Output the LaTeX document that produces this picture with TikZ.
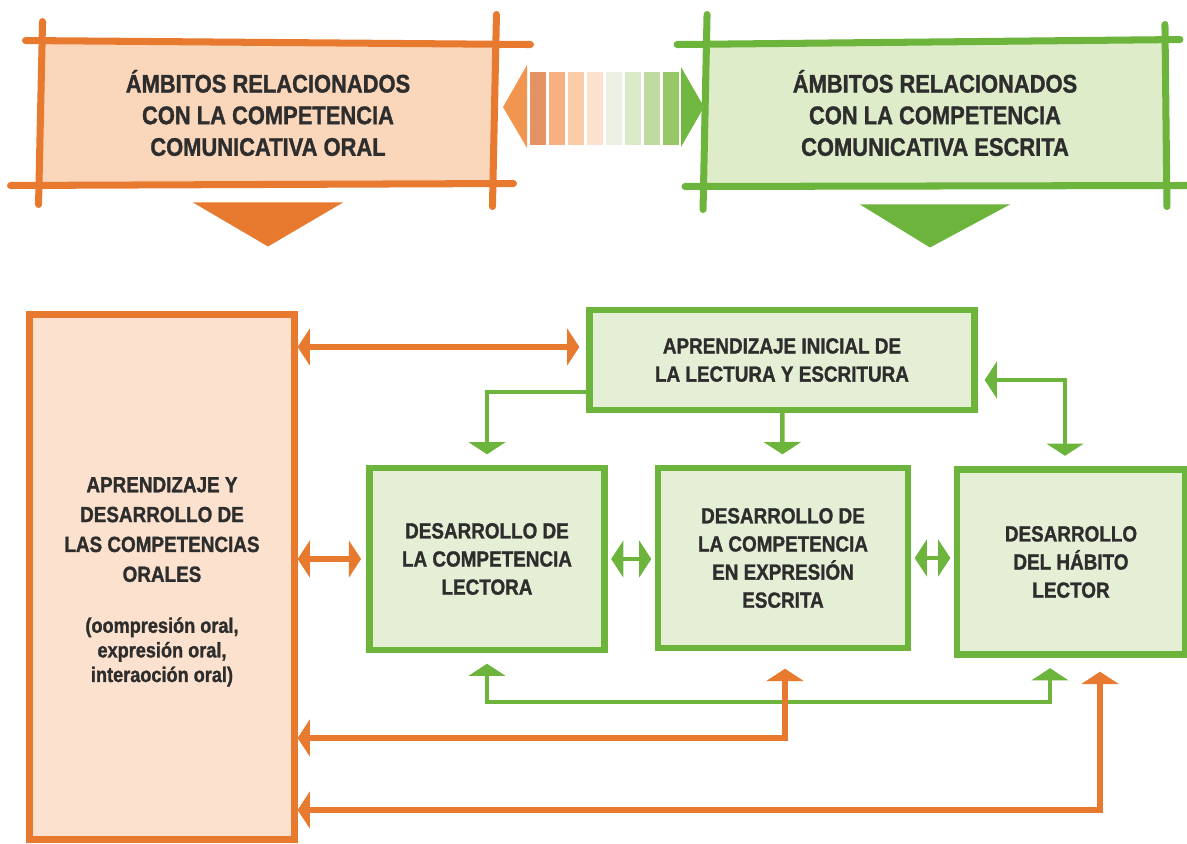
\documentclass[tikz,border=0pt]{standalone}
\usepackage{fontspec}
\setmainfont{Liberation Sans}[FakeStretch=0.86,BoldFeatures={FakeBold=1.2}]
\usetikzlibrary{arrows.meta,calc}

\definecolor{naranja}{RGB}{232,122,48}
\definecolor{naranjafondo}{RGB}{252,226,206}
\definecolor{naranjacab}{RGB}{250,214,186}
\definecolor{verde}{RGB}{108,180,60}
\definecolor{verdefondo}{RGB}{229,239,214}
\definecolor{verdecab}{RGB}{222,236,202}
\definecolor{texto}{RGB}{45,45,45}
% franjas de la flecha central
\definecolor{fr0}{RGB}{240,150,80}
\definecolor{fr1}{RGB}{228,148,100}
\definecolor{fr2}{RGB}{246,176,130}
\definecolor{fr3}{RGB}{250,204,170}
\definecolor{fr4}{RGB}{250,226,206}
\definecolor{fr5}{RGB}{236,241,230}
\definecolor{fr6}{RGB}{218,234,200}
\definecolor{fr7}{RGB}{192,219,162}
\definecolor{fr8}{RGB}{150,200,102}
\definecolor{fr9}{RGB}{112,184,64}

\tikzset{
  cab/.style={inner sep=0pt, outer sep=0pt, align=center, text=texto,
    font=\bfseries\fontsize{14.5}{18}\selectfont},
  cabN/.style={cab, fill=naranjacab},
  cabV/.style={cab, fill=verdecab},
  trazoN/.style={draw=naranja, line width=4pt, line cap=round},
  trazoV/.style={draw=verde, line width=4pt, line cap=round},
  caja/.style={inner sep=0pt, align=center, text=texto, line width=3.6pt,
    font=\bfseries\fontsize{12.5}{16}\selectfont},
  cajaN/.style={caja, fill=naranjafondo, draw=naranja},
  cajaV/.style={caja, fill=verdefondo, draw=verde},
  lineaN/.style={draw=naranja, line width=3.4pt},
  lineaV/.style={draw=verde, line width=2.6pt},
}

\begin{document}
\begin{tikzpicture}[x=0.02cm,y=-0.02cm,>={Triangle[width=21pt,length=7pt]}]
  \useasboundingbox (0,0) rectangle (1187,843);

  % cabecera
  \node (oral) [cabN, minimum width=9.1cm, minimum height=2.86cm] at (268,113)
        {ÁMBITOS RELACIONADOS\\CON LA COMPETENCIA\\COMUNICATIVA ORAL};
  \node (escrita) [cabV, minimum width=9.2cm, minimum height=2.86cm] at (935,113)
        {ÁMBITOS RELACIONADOS\\CON LA COMPETENCIA\\COMUNICATIVA ESCRITA};

  \draw[trazoN] ($(oral.north west)+(-15,-1)$) -- ($(oral.north east)+(35,3)$);
  \draw[trazoN] ($(oral.south west)+(-30,1)$) -- ($(oral.south east)+(18,-1)$);
  \draw[trazoN] ($(oral.north west)+(2,-20)$) -- ($(oral.south west)+(-2,20)$);
  \draw[trazoN] ($(oral.north east)+(1,-27)$) -- ($(oral.south east)+(-3,22)$);

  \draw[trazoV] ($(escrita.north west)+(-28,3)$) -- ($(escrita.north east)+(15,-2)$);
  \draw[trazoV] ($(escrita.south west)+(-20,2)$) -- ($(escrita.south east)+(22,1)$);
  \draw[trazoV] ($(escrita.north west)+(2,-27)$) -- ($(escrita.south west)+(-2,25)$);
  \draw[trazoV] ($(escrita.north east)+(0,-17)$) -- ($(escrita.south east)+(2,22)$);

  \fill[naranja] ($(oral.south)+(-75,18)$) -- ($(oral.south)+(75,18)$) -- ($(oral.south)+(0,62)$) -- cycle;
  \fill[verde] ($(escrita.south)+(-75,20)$) -- ($(escrita.south)+(75,20)$) -- ($(escrita.south)+(-5,63)$) -- cycle;

  % flecha degradada entre las dos cabeceras
  \fill[fr0] (527,65) -- (527,148) -- (503,107) -- cycle;
  \foreach \c [count=\i from 0] in {fr1,fr2,fr3,fr4,fr5,fr6,fr7,fr8}
    \fill[\c] ({530+\i*19},72) rectangle ++(16,73);
  \fill[fr9] (681,67) -- (681,147) -- (704,107) -- cycle;

  % cajas
  \node (orales) [cajaN, minimum width=5.3cm, minimum height=10.5cm,
                  font=\bfseries\fontsize{12.5}{17}\selectfont] at (162,577)
        {{}\\[-3pt]APRENDIZAJE Y\\DESARROLLO DE\\LAS COMPETENCIAS\\ORALES\\[12pt]
         {\fontsize{12}{14}\selectfont (oompresión oral,}\\[-3pt]
         {\fontsize{12}{14}\selectfont expresión oral,}\\[-3pt]
         {\fontsize{12}{14}\selectfont interaoción oral)}};
  \node (inicial) [cajaV, minimum width=7.7cm, minimum height=2cm] at (782,360)
        {APRENDIZAJE INICIAL DE\\LA LECTURA Y ESCRITURA};
  \node (lectora) [cajaV, minimum width=4.7cm, minimum height=3.64cm] at (487,559)
        {DESARROLLO DE\\LA COMPETENCIA\\LECTORA};
  \node (expresion) [cajaV, minimum width=5cm, minimum height=3.6cm] at (783,558)
        {DESARROLLO DE\\LA COMPETENCIA\\EN EXPRESIÓN\\ESCRITA};
  \node (habito) [cajaV, minimum width=4.56cm, minimum height=3.7cm] at (1071,562)
        {DESARROLLO\\DEL HÁBITO\\LECTOR};

  % conectores
  \draw[lineaN,<->] (orales.east |- 0,347) -- ([xshift=-4pt]inicial.west |- 0,347);
  \draw[lineaN,<->] (orales.east |- lectora.west) -- ([xshift=-3pt]lectora.west);
  \draw[lineaV,->,shorten >=6pt] (inicial.west |- 0,392) -| (lectora.north);
  \draw[lineaV,->,shorten >=6pt] (inicial) -- (expresion);
  \draw[lineaV,<->,shorten <=4pt,shorten >=6pt] (inicial.east |- 0,380) -| ([xshift=-0.12cm]habito.north);
  \draw[lineaV,<->,shorten <=2pt,shorten >=2pt] (lectora.east) -- (expresion.west |- lectora.east);
  \draw[lineaV,<->,shorten <=2pt,shorten >=2pt] (expresion.east) -- (habito.west |- expresion.east);
  \draw[lineaV,<->,shorten <=6pt,shorten >=6pt] (lectora.south) -- (lectora.south |- 0,702) -| ([xshift=-0.42cm]habito.south);
  \draw[lineaN,<->,shorten >=10pt] (orales.east |- 0,738) -| ([xshift=0.04cm]expresion.south);
  \draw[lineaN,<->,shorten >=8pt] (orales.east |- 0,810) -| ([xshift=0.58cm]habito.south);
\end{tikzpicture}
\end{document}
